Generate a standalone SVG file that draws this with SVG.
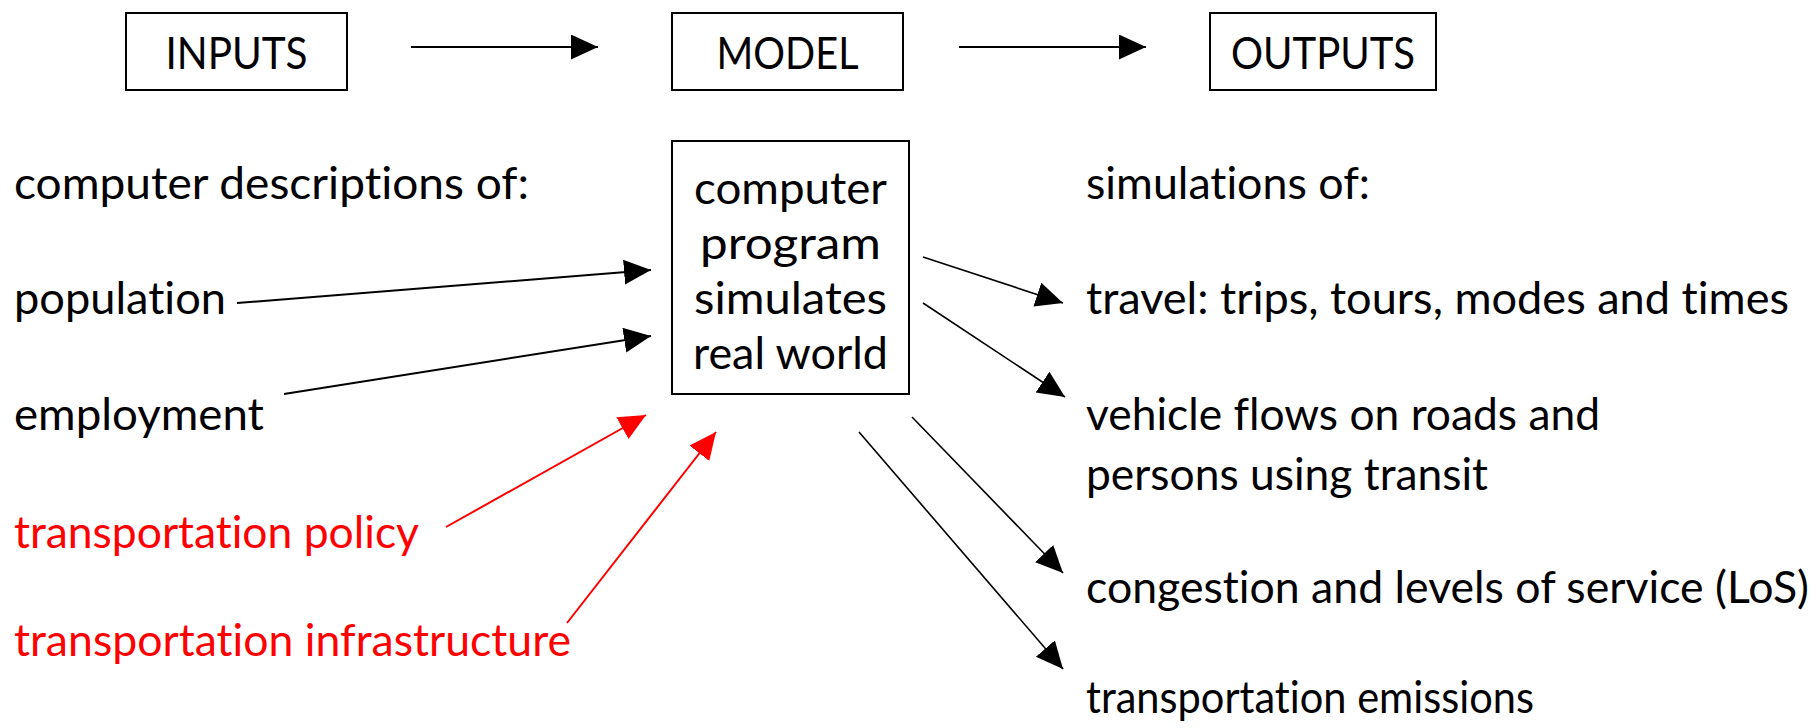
<svg xmlns="http://www.w3.org/2000/svg" width="1816" height="728" viewBox="0 0 1816 728">
  <style>
    .box { fill: #ffffff; stroke: #000000; stroke-width: 2; }
    .t { font-family: Lato, "Open Sans", "Liberation Sans", sans-serif; font-size: 45px; fill: #000000; font-variant-ligatures: none; }
    .red { fill: #ff0000; }
    .mid { text-anchor: middle; }
    .link { fill: none; stroke: #000000; stroke-width: 2; }
    .link.thin { stroke-width: 1.6; }
    .link.r { stroke: #ff0000; }
  </style>
  <defs>
    <marker id="head" markerUnits="userSpaceOnUse" markerWidth="28" markerHeight="26" refX="27" refY="12.5" orient="auto">
      <path d="M0,0 L27,12.5 L0,25 z" fill="#000000"/>
    </marker>
    <marker id="headRed" markerUnits="userSpaceOnUse" markerWidth="28" markerHeight="26" refX="27" refY="12.5" orient="auto">
      <path d="M0,0 L27,12.5 L0,25 z" fill="#ff0000"/>
    </marker>
  </defs>
  <rect width="1816" height="728" fill="#ffffff"/>

  <!-- header row -->
  <g id="inputs">
    <rect class="box" x="126" y="13" width="221" height="77"/>
    <text class="t mid" x="236.5" y="69" textLength="142" lengthAdjust="spacingAndGlyphs">INPUTS</text>
  </g>
  <g id="model">
    <rect class="box" x="672" y="13" width="231" height="77"/>
    <text class="t mid" x="787.5" y="69" textLength="142" lengthAdjust="spacingAndGlyphs">MODEL</text>
  </g>
  <g id="outputs">
    <rect class="box" x="1210" y="13" width="226" height="77"/>
    <text class="t mid" x="1323" y="69" textLength="184" lengthAdjust="spacingAndGlyphs">OUTPUTS</text>
  </g>

  <!-- simulation program -->
  <g id="program">
    <rect class="box" x="672" y="141" width="237" height="253"/>
    <text class="t mid" x="790.5" y="204" textLength="193" lengthAdjust="spacingAndGlyphs">computer</text>
    <text class="t mid" x="790.5" y="259" textLength="181" lengthAdjust="spacingAndGlyphs">program</text>
    <text class="t mid" x="790.5" y="314" textLength="193" lengthAdjust="spacingAndGlyphs">simulates</text>
    <text class="t mid" x="790.5" y="369" textLength="195" lengthAdjust="spacingAndGlyphs">real world</text>
  </g>

  <!-- inputs column -->
  <g id="input-list">
    <text class="t" x="14" y="199" textLength="515" lengthAdjust="spacingAndGlyphs">computer descriptions of:</text>
  </g>
  <g id="population"><text class="t" x="14" y="314" textLength="212" lengthAdjust="spacingAndGlyphs">population</text></g>
  <g id="employment"><text class="t" x="14" y="430" textLength="250" lengthAdjust="spacingAndGlyphs">employment</text></g>
  <g id="policy"><text class="t red" x="14" y="548" textLength="405" lengthAdjust="spacingAndGlyphs">transportation policy</text></g>
  <g id="infrastructure"><text class="t red" x="14" y="656" textLength="557" lengthAdjust="spacingAndGlyphs">transportation infrastructure</text></g>

  <!-- outputs column -->
  <g id="output-list"><text class="t" x="1086" y="199" textLength="284" lengthAdjust="spacingAndGlyphs">simulations of:</text></g>
  <g id="travel"><text class="t" x="1086" y="314" textLength="703" lengthAdjust="spacingAndGlyphs">travel: trips, tours, modes and times</text></g>
  <g id="flows">
    <text class="t" x="1086" y="430" textLength="514" lengthAdjust="spacingAndGlyphs">vehicle flows on roads and</text>
    <text class="t" x="1086" y="490" textLength="402" lengthAdjust="spacingAndGlyphs">persons using transit</text>
  </g>
  <g id="congestion"><text class="t" x="1086" y="603" textLength="723" lengthAdjust="spacingAndGlyphs">congestion and levels of service (LoS)</text></g>
  <g id="emissions"><text class="t" x="1086" y="713" textLength="448" lengthAdjust="spacingAndGlyphs">transportation emissions</text></g>

  <!-- connectors -->
  <g id="connectors">
    <line class="link" x1="411" y1="47" x2="598" y2="47" marker-end="url(#head)"/>
    <line class="link" x1="959" y1="47" x2="1146" y2="47" marker-end="url(#head)"/>

    <line class="link" x1="237" y1="303" x2="651" y2="270" marker-end="url(#head)"/>
    <line class="link" x1="284" y1="394" x2="651" y2="336" marker-end="url(#head)"/>
    <line class="link r" x1="446" y1="527" x2="646" y2="415" marker-end="url(#headRed)"/>
    <line class="link r" x1="567" y1="623" x2="716" y2="432" marker-end="url(#headRed)"/>

    <line class="link thin" x1="923" y1="257" x2="1063" y2="303" marker-end="url(#head)"/>
    <line class="link thin" x1="923" y1="303" x2="1065" y2="397" marker-end="url(#head)"/>
    <line class="link thin" x1="912" y1="417" x2="1063" y2="573" marker-end="url(#head)"/>
    <line class="link thin" x1="859" y1="432" x2="1063" y2="669" marker-end="url(#head)"/>
  </g>
</svg>
